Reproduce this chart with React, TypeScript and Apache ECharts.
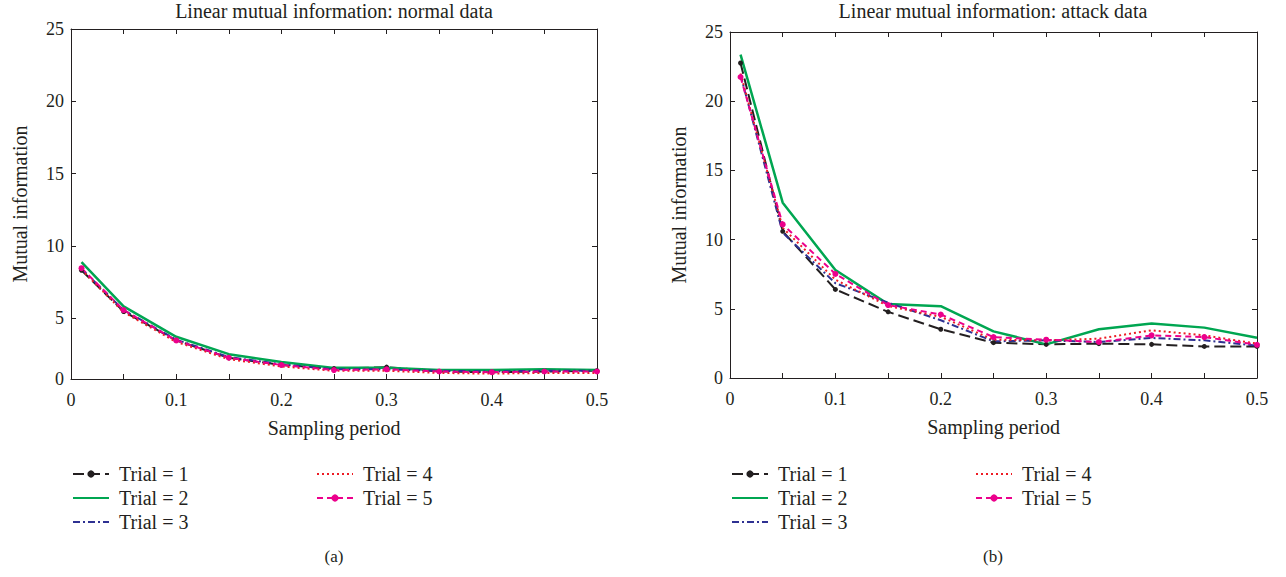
import React, { useEffect, useRef } from "react";
import * as echarts from "echarts";

const FONT = '"Liberation Serif", "Times New Roman", serif';
const INK = "#231f20";

const samplingPeriods = [0.01, 0.05, 0.1, 0.15, 0.2, 0.25, 0.3, 0.35, 0.4, 0.45, 0.5];
const trialNames = ["Trial = 1", "Trial = 2", "Trial = 3", "Trial = 4", "Trial = 5"];

// (a) normal data
const normalTrial1 = [8.3, 5.45, 3.45, 2.25, 1.75, 1.5, 1.6, 1.3, 1.25, 1.3, 1.35];
const normalTrial2 = [8.87, 5.8, 3.7, 2.5, 1.95, 1.55, 1.55, 1.4, 1.4, 1.45, 1.4];
const normalTrial3 = [8.4, 5.55, 3.5, 2.3, 1.8, 1.45, 1.45, 1.35, 1.3, 1.35, 1.35];
const normalTrial4 = [8.35, 5.4, 3.35, 2.15, 1.65, 1.35, 1.35, 1.2, 1.15, 1.2, 1.2];
const normalTrial5 = [8.45, 5.55, 3.45, 2.25, 1.75, 1.4, 1.45, 1.3, 1.25, 1.3, 1.3];

// (b) attack data
const attackTrial1 = [22.76, 10.6, 6.4, 4.78, 3.52, 2.55, 2.43, 2.48, 2.43, 2.28, 2.28];
const attackTrial2 = [23.37, 12.67, 7.8, 5.34, 5.19, 3.37, 2.43, 3.52, 3.93, 3.64, 2.91];
const attackTrial3 = [21.9, 10.5, 6.85, 5.44, 4.17, 2.65, 2.72, 2.6, 2.89, 2.72, 2.33];
const attackTrial4 = [22.0, 10.85, 7.1, 5.2, 4.42, 2.77, 2.72, 2.84, 3.45, 3.08, 2.48];
const attackTrial5 = [21.75, 11.1, 7.52, 5.27, 4.59, 2.96, 2.77, 2.6, 3.08, 2.96, 2.4];

const normalSeries = [normalTrial1, normalTrial2, normalTrial3, normalTrial4, normalTrial5];
const attackSeries = [attackTrial1, attackTrial2, attackTrial3, attackTrial4, attackTrial5];

const leftYTicks = [0.78, 5, 10, 15, 20, 25];
const rightYTicks = [0, 5, 10, 15, 20, 25];

const titles = ["Linear mutual information: normal data", "Linear mutual information: attack data"];
const panelLabels = ["(a)", "(b)"];

const trialStyles = [
  { color: "#231f20", type: [11, 5], width: 2, symbol: "circle", symbolSize: 5 },
  { color: "#00a651", type: "solid", width: 2.5, symbol: "none", symbolSize: 0 },
  { color: "#2e3192", type: [7, 3, 2, 3], width: 2, symbol: "none", symbolSize: 0 },
  { color: "#ed1c24", type: [2, 3], width: 2, symbol: "none", symbolSize: 0 },
  { color: "#ec008c", type: [6, 4], width: 2, symbol: "circle", symbolSize: 6 },
];

const grids = [
  { left: 71, top: 29, width: 526, height: 350 },
  { left: 730, top: 32, width: 527, height: 346 },
];

function xAxes(gridIndex: number) {
  const common = {
    type: "value",
    gridIndex,
    min: 0,
    max: 0.5,
    interval: 0.05,
    splitLine: { show: false },
    axisLine: { show: true, onZero: false, lineStyle: { color: INK, width: 1 } },
    axisTick: { show: true, inside: true, length: 5, lineStyle: { color: INK, width: 1 } },
  };
  return [
    {
      ...common,
      position: "bottom",
      name: "Sampling period",
      nameLocation: "middle",
      nameGap: 39,
      nameTextStyle: { fontFamily: FONT, fontSize: 20, color: INK },
      axisLabel: {
        show: true,
        margin: 12,
        fontFamily: FONT,
        fontSize: 18,
        color: INK,
        formatter: (v: number) => {
          const t = v * 10;
          if (Math.abs(t - Math.round(t)) > 1e-6) return "";
          return String(Math.round(t) / 10);
        },
      },
    },
    { ...common, position: "top", axisLabel: { show: false } },
  ];
}

function yAxes(gridIndex: number, ticks: number[]) {
  const common = {
    type: "value",
    gridIndex,
    min: ticks[0],
    max: 25,
    splitLine: { show: false },
    axisLine: { show: true, onZero: false, lineStyle: { color: INK, width: 1 } },
    axisTick: {
      show: true,
      inside: true,
      length: 5,
      customValues: ticks,
      lineStyle: { color: INK, width: 1 },
    },
  };
  return [
    {
      ...common,
      position: "left",
      name: "Mutual information",
      nameLocation: "middle",
      nameGap: 41,
      nameTextStyle: { fontFamily: FONT, fontSize: 20, color: INK },
      axisLabel: {
        show: true,
        margin: 7,
        fontFamily: FONT,
        fontSize: 18,
        color: INK,
        customValues: ticks,
        formatter: (v: number) => (v < 1 ? "0" : String(Math.round(v))),
      },
    },
    { ...common, position: "right", axisLabel: { show: false } },
  ];
}

function buildSeries(data: number[][], xAxisIndex: number, yAxisIndex: number) {
  return data.map((vals, i) => {
    const s = trialStyles[i];
    return {
      type: "line",
      name: trialNames[i],
      xAxisIndex,
      yAxisIndex,
      data: samplingPeriods.map((x, j) => [x, vals[j]]),
      symbol: s.symbol,
      symbolSize: s.symbolSize,
      showSymbol: s.symbol !== "none",
      itemStyle: { color: s.color },
      lineStyle: { color: s.color, type: s.type, width: s.width },
      silent: true,
    };
  });
}

function legendItem(i: number) {
  const s = trialStyles[i];
  if (s.symbol === "none") {
    return { name: trialNames[i], itemStyle: { opacity: 0 } };
  }
  return { name: trialNames[i] };
}

function legends(left1: number, left2: number) {
  const common = {
    orient: "vertical",
    top: 464,
    itemWidth: 36,
    itemHeight: 9,
    itemGap: 4,
    selectedMode: false,
    padding: 0,
    textStyle: { fontFamily: FONT, fontSize: 20, color: INK, padding: [0, 0, 0, 5] },
  };
  return [
    { ...common, left: left1, data: [0, 1, 2].map(legendItem) },
    { ...common, left: left2, data: [3, 4].map(legendItem) },
  ];
}

export default function App() {
  const ref = useRef<HTMLDivElement>(null);
  useEffect(() => {
    if (!ref.current) return;
    const chart = echarts.init(ref.current, undefined, { renderer: "svg" });
    const option: any = {
      animation: false,
      backgroundColor: "#ffffff",
      grid: grids,
      xAxis: [...xAxes(0), ...xAxes(1)],
      yAxis: [...yAxes(0, leftYTicks), ...yAxes(1, rightYTicks)],
      legend: [...legends(72, 316), ...legends(731, 975)],
      series: [...buildSeries(normalSeries, 0, 0), ...buildSeries(attackSeries, 2, 2)],
      graphic: [
        {
          type: "text",
          x: 334,
          y: 1,
          style: { text: titles[0], fontFamily: FONT, fontSize: 20, fill: INK, textAlign: "center", textVerticalAlign: "top" },
        },
        {
          type: "text",
          x: 993,
          y: 1,
          style: { text: titles[1], fontFamily: FONT, fontSize: 20, fill: INK, textAlign: "center", textVerticalAlign: "top" },
        },
        {
          type: "text",
          x: 334,
          y: 556,
          style: { text: panelLabels[0], fontFamily: FONT, fontSize: 17, fill: INK, textAlign: "center", textVerticalAlign: "middle" },
        },
        {
          type: "text",
          x: 993,
          y: 556,
          style: { text: panelLabels[1], fontFamily: FONT, fontSize: 17, fill: INK, textAlign: "center", textVerticalAlign: "middle" },
        },
      ],
    };
    chart.setOption(option);
    return () => chart.dispose();
  }, []);
  return (
    <div
      ref={ref}
      style={{ position: "fixed", left: 0, top: 0, width: 1286, height: 577, background: "#fff" }}
    />
  );
}
